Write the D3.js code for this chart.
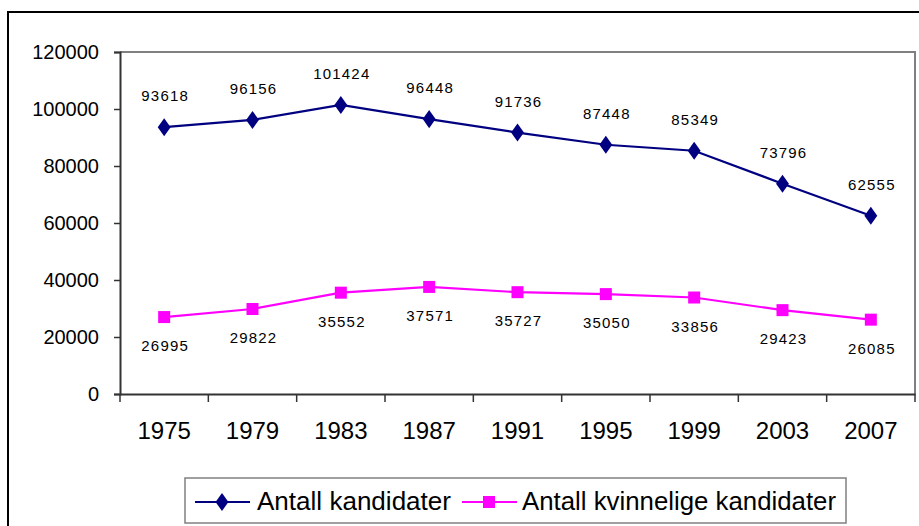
<!DOCTYPE html>
<html><head><meta charset="utf-8">
<script src="https://cdn.jsdelivr.net/npm/d3@7"></script>
<style>body{margin:0;background:#fff}svg{display:block;font-family:"Liberation Sans",Arial,sans-serif}</style>
</head><body><svg id="c" width="919" height="526"></svg>
<script>
const years = ["1975","1979","1983","1987","1991","1995","1999","2003","2007"];
const total = [93618,96156,101424,96448,91736,87448,85349,73796,62555];
const women = [26995,29822,35552,37571,35727,35050,33856,29423,26085];
const yTicks = [0,20000,40000,60000,80000,100000,120000];
const seriesNames = ["Antall kandidater","Antall kvinnelige kandidater"];

const svg = d3.select("#c");
const L=120,R=915,T=52,B=394;
svg.append("path").attr("d","M8,526 L8,12 L919,12").attr("fill","none").attr("stroke","#000").attr("stroke-width",2);

const x = d3.scaleBand().domain(years).range([L,R]);
const y = d3.scaleLinear().domain([0,120000]).range([B,T]);

svg.append("path").attr("d",`M${L},${T} L${R},${T} L${R},${B}`).attr("fill","none").attr("stroke","#808080").attr("stroke-width",2);

const ya = svg.append("g").attr("transform",`translate(${L},0)`)
  .call(d3.axisLeft(y).tickValues(yTicks).tickSize(6).tickPadding(15).tickFormat(d3.format("d")));
ya.select(".domain").attr("stroke","#333").attr("stroke-width",2);
ya.selectAll(".tick line").attr("stroke","#333").attr("stroke-width",1.5);
ya.selectAll("text").attr("font-size",20).attr("fill","#000").attr("font-family","Liberation Sans, Arial");

const xa = svg.append("g").attr("transform",`translate(0,${B})`)
  .call(d3.axisBottom(x).tickSize(0).tickPadding(28));
xa.select(".domain").attr("stroke","#333").attr("stroke-width",2);
xa.selectAll("text").attr("font-size",24).attr("fill","#000").attr("font-family","Liberation Sans, Arial");
svg.append("g").selectAll("line").data(years.concat(["end"])).join("line")
  .attr("x1",(d,i)=>L+i*x.step()).attr("x2",(d,i)=>L+i*x.step())
  .attr("y1",B).attr("y2",B+8).attr("stroke","#333").attr("stroke-width",1.5);

const cx = d=>x(d)+x.bandwidth()/2;
const line = d3.line().x((d,i)=>cx(years[i])).y(d=>y(d));

svg.append("path").datum(total).attr("d",line).attr("fill","none").attr("stroke","#000080").attr("stroke-width",2.2);
svg.append("g").selectAll("path").data(total).join("path")
  .attr("d",d3.symbol(d3.symbolDiamond,130))
  .attr("transform",(d,i)=>`translate(${cx(years[i])},${y(d)}) scale(1.05,0.85)`)
  .attr("fill","#000080");
svg.append("path").datum(women).attr("d",line).attr("fill","none").attr("stroke","#ff00ff").attr("stroke-width",2.2);
svg.append("g").selectAll("rect").data(women).join("rect")
  .attr("x",(d,i)=>cx(years[i])-6).attr("y",d=>y(d)-6).attr("width",12).attr("height",12)
  .attr("fill","#ff00ff");

svg.append("g").selectAll("text").data(total).join("text")
  .attr("x",(d,i)=>cx(years[i])+1).attr("y",d=>y(d)-26)
  .attr("text-anchor","middle").attr("font-size",15).attr("letter-spacing",1.2).text(d=>d);
svg.append("g").selectAll("text").data(women).join("text")
  .attr("x",(d,i)=>cx(years[i])+1).attr("y",d=>y(d)+34)
  .attr("text-anchor","middle").attr("font-size",15).attr("letter-spacing",1.2).text(d=>d);

const lg = svg.append("g");
lg.append("rect").attr("x",185).attr("y",478).attr("width",661).attr("height",45)
  .attr("fill","#fff").attr("stroke","#808080").attr("stroke-width",1.5);
const ly=502;
lg.append("line").attr("x1",195).attr("x2",250).attr("y1",ly).attr("y2",ly).attr("stroke","#000080").attr("stroke-width",2.2);
lg.append("path").attr("d",d3.symbol(d3.symbolDiamond,130)).attr("transform",`translate(222,${ly}) scale(1.05,0.85)`).attr("fill","#000080");
lg.append("text").attr("x",257).attr("y",ly+8).attr("font-size",25).attr("textLength",194).attr("lengthAdjust","spacingAndGlyphs").text(seriesNames[0]);
lg.append("line").attr("x1",462).attr("x2",517).attr("y1",ly).attr("y2",ly).attr("stroke","#ff00ff").attr("stroke-width",2.2);
lg.append("rect").attr("x",483).attr("y",ly-6).attr("width",12).attr("height",12).attr("fill","#ff00ff");
lg.append("text").attr("x",522).attr("y",ly+8).attr("font-size",25).attr("textLength",314).attr("lengthAdjust","spacingAndGlyphs").text(seriesNames[1]);
</script></body></html>
